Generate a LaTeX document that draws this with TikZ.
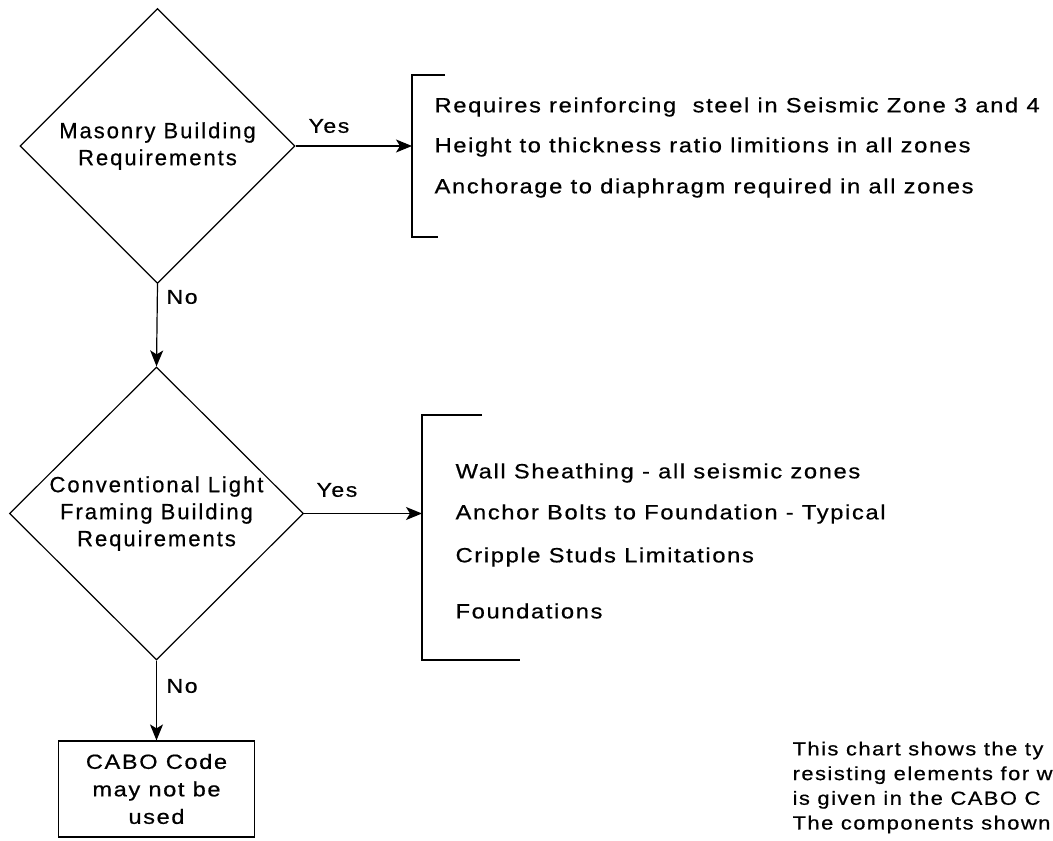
\documentclass[tikz,border=0pt]{standalone}
\usepackage{fontspec}
\setmainfont{Liberation Sans}
\newfontfamily\bodyf{Liberation Sans}[FakeStretch=1.15, LetterSpace=8, FakeBold=0.6]
\newfontfamily\diaf{Liberation Sans}[LetterSpace=9, FakeBold=0.6]
\usetikzlibrary{shapes.geometric,arrows.meta}
\begin{document}
\begin{tikzpicture}[x=1pt,y=-1pt,
  line width=1.2pt,
  txt/.style={font=\bodyf\fontsize{20.6}{27}\selectfont, inner sep=0pt, anchor=west},
  dec/.style={shape=diamond, draw, aspect=1, inner sep=0pt, align=center, font=\diaf\fontsize{22}{27}\selectfont},
  term/.style={draw, minimum width=196pt, minimum height=96pt, inner sep=0pt, align=center, font=\bodyf\fontsize{20.5}{27.5}\selectfont},
  arr/.style={-{Stealth[length=16pt,width=13pt,inset=4pt]}},
  lbl/.style={font=\bodyf\fontsize{20}{20}\selectfont, inner sep=0pt, anchor=west},
  brk/.style={line width=1.1pt}
]
\useasboundingbox (0,0) rectangle (1053,841);
\clip (0,0) rectangle (1053,841);

% decisions
\node[dec, minimum width=275pt, minimum height=275pt] (d1) at (157.5,146) {Masonry Building\\Requirements};
\node[dec, minimum width=294pt, minimum height=293pt] (d2) at (156.5,513.5) {Conventional Light\\Framing Building\\Requirements};
\node[term] (t) at (156.5,789) {CABO Code\\may not be\\used};

% bracket 1
\coordinate (b1) at (412,146);
\draw[brk] (445,75) -- (412,75) -- (412,237) -- (438,237);
\draw[arr] (d1.east) -- (b1);
\node[lbl] (y1) at (308,126) {Yes};
\node[txt] (r1) at (434,107) {Requires reinforcing\ \ steel in Seismic Zone 3 and 4};
\node[txt] (r2) at (434,147) {Height to thickness ratio limitions in all zones};
\node[txt] (r3) at (434,188) {Anchorage to diaphragm required in all zones};

% bracket 2
\coordinate (b2) at (422,513.5);
\draw[brk] (482,415) -- (422,415) -- (422,660) -- (520,660);
\draw[arr] (d2.east) -- (b2);
\node[lbl] (y2) at (316,490) {Yes};
\node[txt] (s1) at (455,473) {Wall Sheathing - all seismic zones};
\node[txt] (s2) at (455,514) {Anchor Bolts to Foundation - Typical};
\node[txt] (s3) at (455,557) {Cripple Studs Limitations};
\node[txt] (s4) at (455,611) {Foundations};

% No arrows
\draw[arr] (d1.south) -- (d2.north);
\node[lbl] (n1) at (166,297) {No};
\draw[arr] (d2.south) -- (t.north);
\node[lbl] (n2) at (166,686) {No};

% note
\node[font=\bodyf\fontsize{19}{24.7}\selectfont, inner sep=0pt, anchor=north west, align=left] (note) at (792,741)
{This chart shows the ty\\resisting elements for w\\is given in the CABO C\\The components shown};
\end{tikzpicture}
\end{document}
